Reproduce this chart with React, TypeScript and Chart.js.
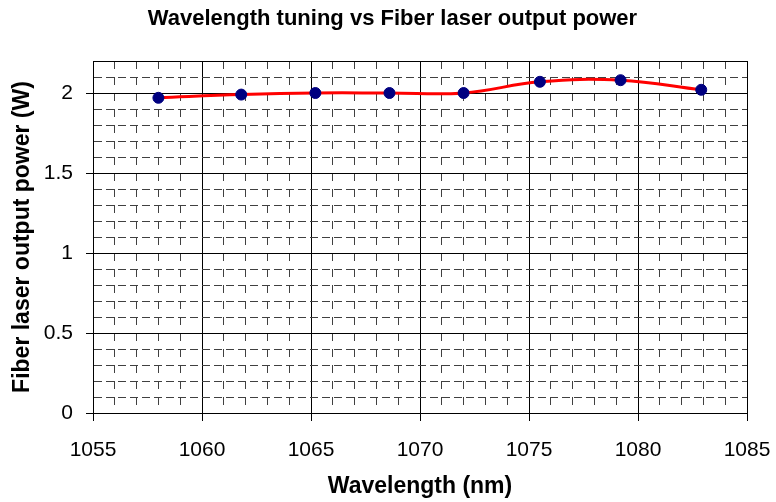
import React, { useEffect, useRef } from "react";
import { Chart, registerables } from "chart.js";

Chart.register(...registerables);

const wavelengths = [1058.0, 1061.8, 1065.2, 1068.6, 1072.0, 1075.5, 1079.2, 1082.9];
const powers = [1.97, 1.99, 2.0, 2.0, 2.0, 2.07, 2.08, 2.02];
const xMajorTicks = [1055, 1060, 1065, 1070, 1075, 1080, 1085];
const yMajorTicks = [0, 0.5, 1, 1.5, 2];

const titleText = "Wavelength tuning vs Fiber laser output power";
const xTitle = "Wavelength (nm)";
const yTitle = "Fiber laser output power (W)";

const FONT = "'Liberation Sans', Arial, Helvetica, sans-serif";

const near = (a: number, b: number) => Math.abs(a - b) < 1e-6;
const isXMajor = (v: number) => xMajorTicks.some((t) => near(t, v)) || near(v, 1085);
const isYMajor = (v: number) => yMajorTicks.some((t) => near(t, v)) || near(v, 2.2);

export default function App() {
  const ref = useRef<HTMLCanvasElement | null>(null);
  useEffect(() => {
    if (!ref.current) return;
    const chart = new Chart(ref.current, {
      type: "line",
      data: {
        datasets: [
          {
            data: wavelengths.map((x, i) => ({ x, y: powers[i] })),
            borderColor: "#ff0000",
            borderWidth: 3,
            tension: 0.4,
            pointRadius: 5.5,
            pointBorderWidth: 1,
            pointBackgroundColor: "#000080",
            pointBorderColor: "#000080",
            fill: false,
          },
        ],
      },
      options: {
        animation: false,
        responsive: true,
        maintainAspectRatio: false,
        layout: { padding: { left: 9, right: 0, top: 0, bottom: 0 } },
        plugins: {
          legend: { display: false },
          tooltip: { enabled: false },
          title: {
            display: true,
            text: titleText,
            color: "#000",
            font: { family: FONT, size: 22, weight: "bold" },
            padding: { top: 6, bottom: 28.6 },
          },
        },
        scales: {
          x: {
            type: "linear",
            min: 1055,
            max: 1085,
            afterFit: (s: any) => {
              s.height = 89;
              s.paddingRight = 29;
            },
            ticks: {
              stepSize: 1,
              autoSkip: false,
              maxRotation: 0,
              padding: 17,
              color: "#000",
              font: { family: FONT, size: 21 },
              callback: (v: any) => (xMajorTicks.some((t) => near(t, Number(v))) ? String(Math.round(Number(v))) : ""),
            },
            grid: {
              drawTicks: true,
              tickLength: 8,
              lineWidth: 1,
              color: (c: any) => (c.tick && isXMajor(c.tick.value) ? "#000" : "#404040"),
              tickColor: (c: any) => (c.tick && isXMajor(c.tick.value) ? "#000" : "rgba(0,0,0,0)"),
            },
            border: {
              display: true,
              color: "#000",
              width: 1,
              dash: (c: any) => (c.tick && !isXMajor(c.tick.value) ? [8, 8] : []),
            },
            title: {
              display: true,
              text: xTitle,
              color: "#000",
              font: { family: FONT, size: 23, weight: "bold" },
              padding: { top: 0, bottom: 2 },
            },
          },
          y: {
            type: "linear",
            min: 0,
            max: 2.2,
            afterFit: (s: any) => {
              s.width = 84;
            },
            ticks: {
              stepSize: 0.1,
              autoSkip: false,
              padding: 13,
              color: "#000",
              font: { family: FONT, size: 21 },
              callback: (v: any) => {
                const n = Number(v);
                const m = yMajorTicks.find((t) => near(t, n));
                return m === undefined ? "" : String(m);
              },
            },
            grid: {
              drawTicks: true,
              tickLength: 7,
              lineWidth: 1,
              color: (c: any) => (c.tick && isYMajor(c.tick.value) ? "#000" : "#404040"),
              tickColor: (c: any) => (c.tick && isYMajor(c.tick.value) && !near(c.tick.value, 2.2) ? "#000" : "rgba(0,0,0,0)"),
            },
            border: {
              display: true,
              color: "#000",
              width: 1,
              dash: (c: any) => (c.tick && !isYMajor(c.tick.value) ? [8, 4] : []),
            },
            title: {
              display: true,
              text: yTitle,
              color: "#000",
              font: { family: FONT, size: 23, weight: "bold" },
              padding: { top: 0, bottom: 0 },
            },
          },
        },
      } as any,
    });
    return () => chart.destroy();
  }, []);
  return (
    <div style={{ position: "fixed", left: 0, top: 0, width: 776, height: 502, background: "#fff" }}>
      <canvas ref={ref} />
    </div>
  );
}
